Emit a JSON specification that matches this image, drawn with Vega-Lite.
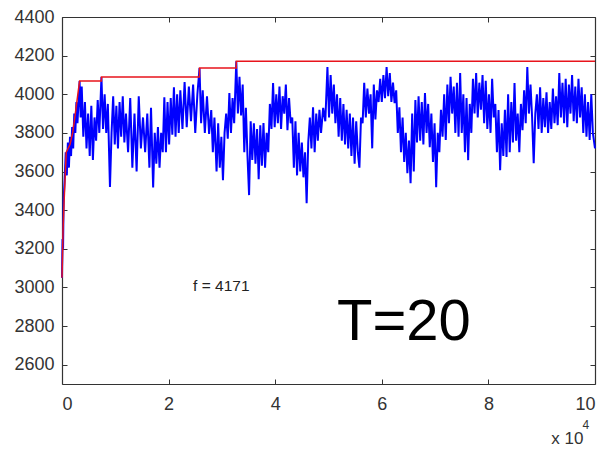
{
  "$schema": "https://vega.github.io/schema/vega-lite/v6.json",
  "width": 533,
  "height": 367,
  "autosize": "none",
  "padding": {"left": 62, "top": 17, "right": 5, "bottom": 65},
  "background": "white",
  "config": {
    "view": {"stroke": null},
    "font": "Liberation Sans",
    "axis": {
      "domainColor": "#333333",
      "tickColor": "#333333",
      "tickSize": -5,
      "grid": false,
      "labelFont": "Liberation Sans",
      "labelFontSize": 18,
      "labelColor": "#333333",
      "domainWidth": 1.2,
      "tickWidth": 1
    }
  },
  "datasets": {
    "blue": [
      {"x":0.00,"y":3050},{"x":0.01,"y":3250},{"x":0.02,"y":3200},{"x":0.03,"y":3450},{"x":0.05,"y":3560},{"x":0.07,"y":3700},{"x":0.09,"y":3580},{"x":0.11,"y":3750},{"x":0.13,"y":3620},{"x":0.15,"y":3780},{"x":0.17,"y":3680},{"x":0.19,"y":3830},{"x":0.21,"y":3720},{"x":0.23,"y":3900},{"x":0.25,"y":3800},{"x":0.27,"y":3960},{"x":0.29,"y":3850},{"x":0.33,"y":4069},{"x":0.35,"y":3880},{"x":0.37,"y":4040},
      {"x":0.40,"y":3780},{"x":0.43,"y":3960},{"x":0.46,"y":3720},{"x":0.49,"y":3900},{"x":0.52,"y":3680},{"x":0.55,"y":3940},{"x":0.58,"y":3660},{"x":0.61,"y":3880},{"x":0.64,"y":3760},{"x":0.67,"y":3970},{"x":0.70,"y":3800},{"x":0.74,"y":4089},{"x":0.77,"y":3820},{"x":0.80,"y":4000},{"x":0.83,"y":3800},{"x":0.86,"y":3950},{"x":0.90,"y":3520},{"x":0.93,"y":3800},{"x":0.96,"y":3990},{"x":0.99,"y":3740},
      {"x":1.02,"y":3940},{"x":1.05,"y":3720},{"x":1.08,"y":3960},{"x":1.11,"y":3780},{"x":1.14,"y":3990},{"x":1.17,"y":3750},{"x":1.20,"y":3900},{"x":1.24,"y":3700},{"x":1.28,"y":3980},{"x":1.32,"y":3620},{"x":1.36,"y":3900},{"x":1.40,"y":3600},{"x":1.44,"y":3990},{"x":1.48,"y":3720},{"x":1.52,"y":3880},{"x":1.56,"y":3700},{"x":1.60,"y":3900},{"x":1.64,"y":3620},{"x":1.67,"y":3930},{"x":1.71,"y":3518},
      {"x":1.74,"y":3800},{"x":1.77,"y":3640},{"x":1.80,"y":3830},{"x":1.83,"y":3620},{"x":1.86,"y":3800},{"x":1.89,"y":3700},{"x":1.92,"y":3985},{"x":1.95,"y":3700},{"x":1.98,"y":3960},{"x":2.01,"y":3740},{"x":2.04,"y":3980},{"x":2.07,"y":3790},{"x":2.10,"y":4036},{"x":2.13,"y":3780},{"x":2.16,"y":4000},{"x":2.19,"y":3800},{"x":2.22,"y":4020},{"x":2.26,"y":3820},{"x":2.30,"y":4063},{"x":2.34,"y":3830},
      {"x":2.38,"y":4040},{"x":2.42,"y":3860},{"x":2.46,"y":4050},{"x":2.50,"y":3800},{"x":2.54,"y":4000},{"x":2.58,"y":4136},{"x":2.61,"y":3850},{"x":2.64,"y":4020},{"x":2.68,"y":3800},{"x":2.72,"y":3990},{"x":2.76,"y":3795},{"x":2.80,"y":3918},{"x":2.83,"y":3700},{"x":2.86,"y":3880},{"x":2.90,"y":3600},{"x":2.93,"y":3850},{"x":2.96,"y":3620},{"x":2.99,"y":3780},{"x":3.02,"y":3555},{"x":3.05,"y":3800},
      {"x":3.08,"y":3900},{"x":3.11,"y":3770},{"x":3.14,"y":4006},{"x":3.17,"y":3800},{"x":3.20,"y":3980},{"x":3.23,"y":3850},{"x":3.27,"y":4171},{"x":3.30,"y":3900},{"x":3.33,"y":4090},{"x":3.36,"y":3890},{"x":3.39,"y":4050},{"x":3.42,"y":3700},{"x":3.45,"y":3930},{"x":3.48,"y":3680},{"x":3.51,"y":3478},{"x":3.54,"y":3860},{"x":3.57,"y":3660},{"x":3.60,"y":3850},{"x":3.63,"y":3640},{"x":3.66,"y":3820},
      {"x":3.69,"y":3560},{"x":3.72,"y":3840},{"x":3.75,"y":3630},{"x":3.78,"y":3851},{"x":3.81,"y":3620},{"x":3.84,"y":3800},{"x":3.87,"y":3700},{"x":3.90,"y":3950},{"x":3.93,"y":3820},{"x":3.96,"y":4058},{"x":3.99,"y":3830},{"x":4.02,"y":4000},{"x":4.05,"y":3850},{"x":4.08,"y":4040},{"x":4.11,"y":3820},{"x":4.14,"y":3990},{"x":4.17,"y":3900},{"x":4.20,"y":4050},{"x":4.23,"y":3814},{"x":4.26,"y":3980},
      {"x":4.29,"y":3850},{"x":4.32,"y":3880},{"x":4.35,"y":3620},{"x":4.38,"y":3860},{"x":4.41,"y":3580},{"x":4.44,"y":3800},{"x":4.47,"y":3600},{"x":4.50,"y":3750},{"x":4.53,"y":3570},{"x":4.56,"y":3700},{"x":4.59,"y":3436},{"x":4.62,"y":3750},{"x":4.65,"y":3880},{"x":4.68,"y":3720},{"x":4.71,"y":3933},{"x":4.74,"y":3700},{"x":4.77,"y":3900},{"x":4.80,"y":3760},{"x":4.83,"y":3920},{"x":4.86,"y":3800},
      {"x":4.90,"y":3930},{"x":4.94,"y":3860},{"x":4.98,"y":4141},{"x":5.01,"y":3880},{"x":5.04,"y":4100},{"x":5.07,"y":3900},{"x":5.10,"y":4050},{"x":5.13,"y":3850},{"x":5.16,"y":4000},{"x":5.19,"y":3780},{"x":5.22,"y":3980},{"x":5.25,"y":3760},{"x":5.28,"y":3950},{"x":5.31,"y":3740},{"x":5.34,"y":3920},{"x":5.37,"y":3720},{"x":5.40,"y":3900},{"x":5.43,"y":3680},{"x":5.46,"y":3880},{"x":5.49,"y":3640},
      {"x":5.52,"y":3860},{"x":5.55,"y":3700},{"x":5.58,"y":3620},{"x":5.61,"y":3880},{"x":5.64,"y":3850},{"x":5.67,"y":4060},{"x":5.70,"y":3880},{"x":5.73,"y":4030},{"x":5.76,"y":3900},{"x":5.79,"y":4000},{"x":5.82,"y":3720},{"x":5.85,"y":4050},{"x":5.88,"y":3870},{"x":5.91,"y":4020},{"x":5.94,"y":3960},{"x":5.97,"y":4080},{"x":6.00,"y":3960},{"x":6.03,"y":4100},{"x":6.06,"y":3980},{"x":6.09,"y":4141},
      {"x":6.12,"y":3990},{"x":6.15,"y":4110},{"x":6.18,"y":3960},{"x":6.21,"y":4060},{"x":6.24,"y":3954},{"x":6.27,"y":4020},{"x":6.30,"y":3800},{"x":6.33,"y":3933},{"x":6.36,"y":3700},{"x":6.39,"y":3880},{"x":6.42,"y":3650},{"x":6.45,"y":3800},{"x":6.48,"y":3591},{"x":6.51,"y":3760},{"x":6.54,"y":3540},{"x":6.57,"y":3900},{"x":6.60,"y":3600},{"x":6.63,"y":3970},{"x":6.66,"y":3750},{"x":6.69,"y":3990},
      {"x":6.72,"y":3760},{"x":6.75,"y":3960},{"x":6.78,"y":3740},{"x":6.81,"y":4006},{"x":6.84,"y":3800},{"x":6.87,"y":3950},{"x":6.90,"y":3726},{"x":6.93,"y":3900},{"x":6.96,"y":3650},{"x":6.99,"y":3850},{"x":7.02,"y":3519},{"x":7.05,"y":3800},{"x":7.08,"y":3700},{"x":7.11,"y":3920},{"x":7.14,"y":3780},{"x":7.17,"y":4000},{"x":7.20,"y":3763},{"x":7.23,"y":4050},{"x":7.26,"y":3850},{"x":7.29,"y":4090},
      {"x":7.32,"y":3900},{"x":7.35,"y":4040},{"x":7.38,"y":3800},{"x":7.41,"y":4060},{"x":7.44,"y":3780},{"x":7.47,"y":4110},{"x":7.50,"y":3800},{"x":7.53,"y":4000},{"x":7.56,"y":3700},{"x":7.59,"y":3980},{"x":7.62,"y":3659},{"x":7.65,"y":3950},{"x":7.68,"y":3800},{"x":7.71,"y":4080},{"x":7.74,"y":3900},{"x":7.77,"y":4110},{"x":7.80,"y":3880},{"x":7.83,"y":4060},{"x":7.86,"y":3920},{"x":7.89,"y":4100},
      {"x":7.92,"y":3850},{"x":7.95,"y":4070},{"x":7.98,"y":3820},{"x":8.01,"y":4000},{"x":8.04,"y":3800},{"x":8.07,"y":4080},{"x":8.10,"y":3880},{"x":8.13,"y":3950},{"x":8.16,"y":3700},{"x":8.19,"y":3918},{"x":8.22,"y":3607},{"x":8.25,"y":3850},{"x":8.28,"y":3680},{"x":8.31,"y":3920},{"x":8.34,"y":3675},{"x":8.37,"y":4000},{"x":8.40,"y":3700},{"x":8.43,"y":3960},{"x":8.46,"y":3750},{"x":8.49,"y":4058},
      {"x":8.52,"y":3760},{"x":8.55,"y":3900},{"x":8.58,"y":3700},{"x":8.61,"y":3950},{"x":8.64,"y":3814},{"x":8.67,"y":4020},{"x":8.70,"y":3850},{"x":8.73,"y":4141},{"x":8.76,"y":3900},{"x":8.79,"y":4050},{"x":8.82,"y":3880},{"x":8.85,"y":3643},{"x":8.88,"y":3900},{"x":8.91,"y":4000},{"x":8.94,"y":3820},{"x":8.97,"y":4036},{"x":9.00,"y":3800},{"x":9.03,"y":3980},{"x":9.06,"y":3830},{"x":9.09,"y":4010},
      {"x":9.12,"y":3800},{"x":9.15,"y":3960},{"x":9.18,"y":3820},{"x":9.21,"y":4030},{"x":9.24,"y":3850},{"x":9.27,"y":3990},{"x":9.30,"y":3840},{"x":9.33,"y":4110},{"x":9.36,"y":3880},{"x":9.39,"y":4060},{"x":9.42,"y":3850},{"x":9.45,"y":4080},{"x":9.48,"y":3830},{"x":9.51,"y":4050},{"x":9.54,"y":3900},{"x":9.57,"y":4100},{"x":9.60,"y":3860},{"x":9.63,"y":4040},{"x":9.66,"y":3850},{"x":9.69,"y":4080},
      {"x":9.72,"y":3880},{"x":9.75,"y":4036},{"x":9.78,"y":3800},{"x":9.81,"y":4000},{"x":9.84,"y":3780},{"x":9.87,"y":3960},{"x":9.90,"y":3763},{"x":9.93,"y":4000},{"x":9.96,"y":3800},{"x":10.0,"y":3720}
    ],
    "red": [
      {"i":0,"x":0,"y":3050},{"i":1,"x":0.02,"y":3300},{"i":2,"x":0.04,"y":3450},{"i":3,"x":0.08,"y":3700},{"i":4,"x":0.15,"y":3740},{"i":5,"x":0.2,"y":3800},{"i":6,"x":0.25,"y":3900},{"i":7,"x":0.33,"y":4069},{"i":8,"x":0.74,"y":4069},{"i":9,"x":0.74,"y":4089},{"i":10,"x":2.58,"y":4089},{"i":11,"x":2.58,"y":4136},{"i":12,"x":3.27,"y":4136},{"i":13,"x":3.27,"y":4171},{"i":14,"x":10,"y":4171}
    ],
    "labels": [
      {"x":2.46,"y":3005,"t":"f = 4171"}
    ],
    "big": [
      {"x":5.16,"y":2815,"t":"T=20"}
    ],
    "exp": [
      {"x":9.83,"y":2290,"t":"4"}
    ]
  },
  "resolve": {"axis": {"x": "independent", "y": "independent"}},
  "layer": [
    {
      "data": {"name": "blue"},
      "mark": {"type": "line", "color": "#0000ff", "strokeWidth": 2},
      "encoding": {
        "x": {"field": "x", "type": "quantitative",
              "scale": {"domain": [0, 10], "nice": false},
              "axis": {"orient": "bottom", "values": [0,2,4,6,8,10], "labelPadding": 16,
                       "title": "x 10", "titleAlign": "right", "titleBaseline": "alphabetic", "titleFontSize": 17,
                       "titleFont": "Liberation Sans",
                       "titleFontWeight": "normal", "titleColor": "#333333", "titleX": 521, "titleY": 59}},
        "y": {"field": "y", "type": "quantitative",
              "scale": {"domain": [2500, 4400], "nice": false, "zero": false},
              "axis": {"orient": "left", "format": "d", "values": [2600,2800,3000,3200,3400,3600,3800,4000,4200,4400], "labelPadding": 13, "title": null}}
      }
    },
    {
      "data": {"name": "red"},
      "mark": {"type": "line", "color": "#e8141c", "strokeWidth": 1.5},
      "encoding": {
        "x": {"field": "x", "type": "quantitative",
              "scale": {"domain": [0, 10], "nice": false},
              "axis": {"orient": "top", "values": [0,2,4,6,8,10], "labels": false, "title": null}},
        "y": {"field": "y", "type": "quantitative",
              "scale": {"domain": [2500, 4400], "nice": false, "zero": false},
              "axis": {"orient": "right", "values": [2600,2800,3000,3200,3400,3600,3800,4000,4200,4400], "labels": false, "title": null}},
        "order": {"field": "i", "type": "quantitative"}
      }
    },
    {
      "data": {"name": "labels"},
      "mark": {"type": "text", "align": "left", "baseline": "middle", "fontSize": 15.5, "color": "#222222", "font": "Liberation Sans"},
      "encoding": {
        "x": {"field": "x", "type": "quantitative", "axis": null},
        "y": {"field": "y", "type": "quantitative", "axis": null},
        "text": {"field": "t"}
      }
    },
    {
      "data": {"name": "exp"},
      "mark": {"type": "text", "align": "center", "baseline": "middle", "fontSize": 12, "color": "#333333", "font": "Liberation Sans", "clip": false},
      "encoding": {
        "x": {"field": "x", "type": "quantitative", "axis": null},
        "y": {"field": "y", "type": "quantitative", "axis": null},
        "text": {"field": "t"}
      }
    },
    {
      "data": {"name": "big"},
      "mark": {"type": "text", "align": "left", "baseline": "middle", "fontSize": 58, "color": "#000000", "font": "Liberation Sans"},
      "encoding": {
        "x": {"field": "x", "type": "quantitative", "axis": null},
        "y": {"field": "y", "type": "quantitative", "axis": null},
        "text": {"field": "t"}
      }
    }
  ]
}
